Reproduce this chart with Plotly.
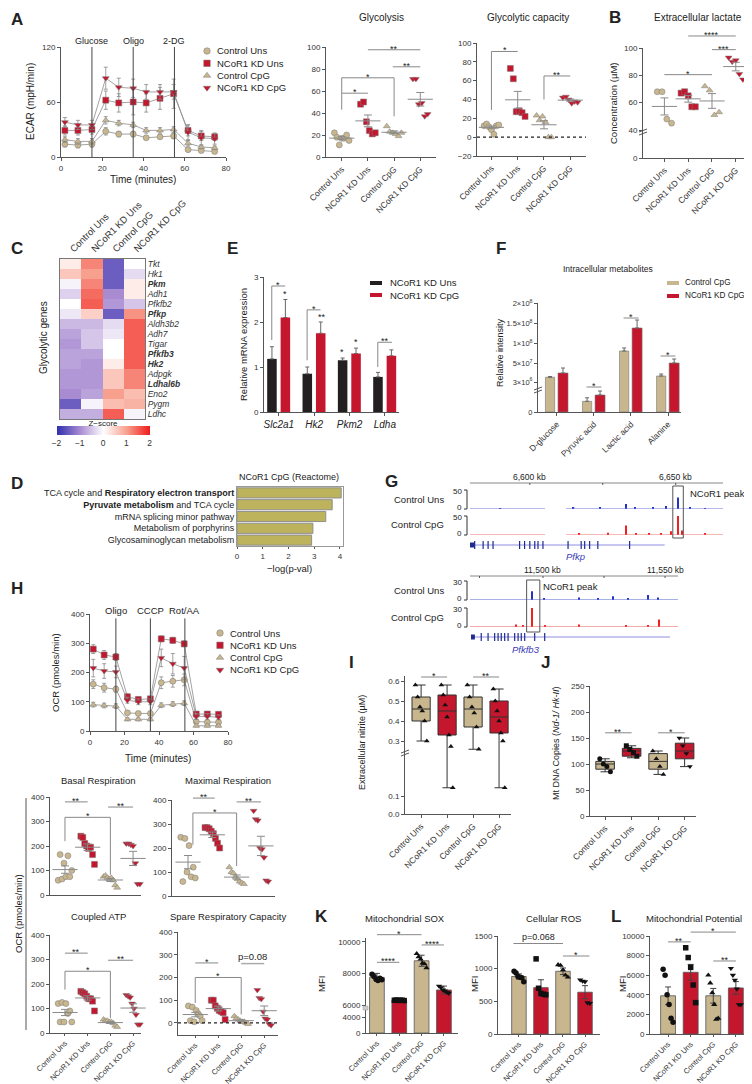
import numpy as np
import plotly.graph_objects as go

W, H = 752, 1084
FONT = 'Liberation Sans, Arial, sans-serif'
TAN = '#C8B68F'
RED = '#C4172E'
AXC = '#555555'
INK = '#222222'

GROUPS = ['Control Uns', 'NCoR1 KD Uns', 'Control CpG', 'NCoR1 KD CpG']
SYMS = ['circle', 'square', 'triangle-up', 'triangle-down']
COLS = [TAN, RED, TAN, RED]

# ---------------- data ----------------
# A: ECAR time course
ecar_time = [1.9, 8.2, 15, 21.7, 28, 35, 41.3, 48, 54.6, 61.6, 68, 74.5]
ecar_ctrl_uns = [14, 13, 14, 28, 25, 25, 21, 22, 23, 8, 7, 6]
ecar_kd_uns = [29, 29, 30, 62, 59, 60, 59, 64, 69, 29, 23, 22]
ecar_ctrl_cpg = [19, 17, 17, 40, 37, 35, 29, 29, 30, 15, 11, 10]
ecar_kd_cpg = [38, 35, 35, 86, 76, 75, 71, 71, 71, 27, 21, 20]
ecar_err_ctrl_uns = [3, 3, 3, 4, 3, 3, 2, 2, 3, 2, 2, 2]
ecar_err_kd_uns = [5, 5, 5, 10, 10, 14, 10, 12, 16, 6, 5, 4]
ecar_err_ctrl_cpg = [3, 3, 3, 4, 3, 3, 3, 3, 3, 3, 2, 2]
ecar_err_kd_cpg = [5, 5, 5, 12, 10, 10, 8, 8, 8, 8, 8, 6]
ecar_inject_t = [15, 35, 55]
ecar_inject_lab = ['Glucose', 'Oligo', '2-DG']

glycolysis = [[22, 18, 11, 17, 17, 20, 15], [48, 50, 32, 24, 21, 22],
              [28, 23, 22, 21, 19, 22], [71, 71, 48, 49, 37, 39]]
glyco_capacity = [[12, 14, 11, 8, 3, 12, 13], [73, 62, 27, 28, 26, 22],
                  [23, 18, 22, 16, 0, 0], [42, 43, 40, 36, 38, 37]]
lactate = [[68, 68, 48, 45], [67, 68, 65, 57, 57], [72, 69, 51, 53], [93, 90, 91, 81, 77]]

# C: heatmap
genes = ['Tkt', 'Hk1', 'Pkm', 'Adh1', 'Pfkfb2', 'Pfkp', 'Aldh3b2', 'Adh7', 'Tigar',
         'Pfkfb3', 'Hk2', 'Adpgk', 'Ldhal6b', 'Eno2', 'Pygm', 'Ldhc']
bold_genes = ['Pkm', 'Pfkp', 'Pfkfb3', 'Hk2', 'Ldhal6b']
zscores = [[0.2, 1.2, -1.5, 0.0], [0.6, 1.0, -1.5, -0.3], [-0.1, 1.2, -1.5, 0.2],
           [-0.4, 1.4, -1.0, 0.2], [0.0, 1.5, -0.9, -0.5], [-0.2, 0.5, -1.5, 1.1],
           [-0.6, -0.6, -0.3, 1.5], [-0.8, -0.5, -0.2, 1.5], [-0.9, -0.5, 0.0, 1.5],
           [-0.8, -0.8, 0.0, 1.5], [-0.8, -0.9, 0.2, 1.5], [-0.9, -0.9, 0.6, 1.2],
           [-0.9, -0.9, 0.6, 1.2], [-1.0, -0.8, 1.0, 0.7], [-1.5, -0.1, 0.7, 0.8],
           [-0.7, -0.7, 1.5, -0.1]]

# E: qPCR
qpcr_genes = ['Slc2a1', 'Hk2', 'Pkm2', 'Ldha']
qpcr_kd_uns = [1.18, 0.85, 1.15, 0.78]
qpcr_kd_uns_err = [0.27, 0.15, 0.05, 0.1]
qpcr_kd_cpg = [2.1, 1.75, 1.3, 1.25]
qpcr_kd_cpg_err = [0.4, 0.25, 0.12, 0.13]

# F: metabolites
metabolites = ['D-glucose', 'Pyruvic acid', 'Lactic acid', 'Alanine']
metab_ctrl_cpg = [1.5e7, 1.07e6, 8.05e7, 1.8e7]
metab_ctrl_cpg_err = [1.5e6, 0.35e6, 7.5e6, 5e6]
metab_kd_cpg = [2.55e7, 1.7e6, 1.38e8, 5.05e7]
metab_kd_cpg_err = [1.25e7, 0.4e6, 2e7, 1e7]

# D: Reactome
reactome_terms = ['TCA cycle and <b>Respiratory electron transport</b>',
                  '<b>Pyruvate metabolism</b> and TCA cycle',
                  'mRNA splicing minor pathway', 'Metabolism of porphyrins',
                  'Glycosaminoglycan metabolism']
reactome_logp = [4.05, 3.7, 3.45, 2.95, 2.9]

# G: ChIP tracks (kb, signal)
pfkp_uns_pos = [6650.7, 6632.9, 6646.6, 6624.0, 6642.2, 6615.0, 6636.0, 6655.0, 6660.0, 6590.0]
pfkp_uns_ht = [30, 13, 8, 4, 4, 3, 3, 3, 2, 2]
pfkp_cpg_pos = [6650.7, 6632.9, 6652.1, 6648.3, 6626.8, 6660.0, 6636.4, 6641.0, 6617.0, 6645.0]
pfkp_cpg_ht = [60, 25, 12, 10, 6, 5, 4, 4, 3, 4]
pfkp_cov = [[6579.5, 6605.2], [6612.4, 6666.2]]
pfkp_exons = [6581.1, 6584.0, 6585.7, 6587.4, 6596.5, 6598.2, 6600.0, 6601.7, 6602.8,
              6604.5, 6613.1, 6617.6, 6618.8, 6620.5, 6623.3, 6634.2]
pfkp_span = [6579.5, 6646.2]
pfkfb3_uns_pos = [11495.5, 11543.0, 11528.7, 11514.8, 11547.1, 11522.5, 11500.5, 11535.0]
pfkfb3_uns_ht = [14, 8, 6, 4, 4, 3, 3, 3]
pfkfb3_cpg_pos = [11495.5, 11547.5, 11489.0, 11514.8, 11534.0, 11543.0, 11500.7, 11492.0]
pfkfb3_cpg_ht = [34, 12, 4, 4, 3, 3, 3, 2]
pfkfb3_cov = [[11470.1, 11555.3]]
pfkfb3_exons = [11474.7, 11477.5, 11480.2, 11481.6, 11482.9, 11484.3, 11485.7, 11488.4,
                11489.8, 11491.1, 11492.5, 11496.6, 11500.7]
pfkfb3_span = [11470.5, 11552.0]

# H: OCR
ocr_ctrl_uns = [160, 148, 143, 62, 60, 60, 165, 170, 175, 32, 30, 30]
ocr_kd_uns = [280, 260, 253, 117, 108, 110, 315, 310, 298, 58, 58, 57]
ocr_ctrl_cpg = [90, 87, 85, 40, 40, 40, 88, 92, 95, 18, 18, 18]
ocr_kd_cpg = [215, 205, 202, 105, 100, 100, 250, 230, 215, 50, 50, 47]
ocr_err_ctrl_uns = [15, 15, 10, 5, 5, 5, 20, 20, 20, 5, 5, 5]
ocr_err_kd_uns = [15, 15, 12, 10, 8, 8, 10, 10, 10, 8, 8, 8]
ocr_err_ctrl_cpg = [8, 8, 8, 5, 5, 5, 8, 8, 8, 4, 4, 4]
ocr_err_kd_cpg = [30, 25, 20, 10, 10, 10, 30, 35, 40, 10, 10, 8]
ocr_inject_lab = ['Oligo', 'CCCP', 'Rot/AA']

basal = [[60, 165, 65, 130, 75, 160, 75, 100], [240, 235, 210, 200, 190, 195, 165, 125],
         [75, 80, 70, 65, 70, 60, 40, 30], [210, 210, 205, 200, 130, 45, 45]]
maximal = [[245, 60, 240, 100, 210, 80, 120, 75], [285, 285, 280, 270, 260, 240, 220, 200],
           [120, 100, 95, 80, 70, 60, 55, 50], [355, 320, 315, 200, 195, 160, 65, 60]]
coupled = [[120, 45, 125, 45, 120, 80, 90, 45], [170, 165, 160, 150, 140, 140, 130, 90],
           [55, 50, 50, 45, 45, 40, 30, 25], [155, 150, 145, 120, 100, 75, 35, 35]]
spare = [[75, 10, 70, 5, 55, 40, 30, 10], [100, 100, 75, 65, 55, 50, 45, 15],
         [30, 20, 15, 10, 5, 5, 0, -5], [145, 110, 105, 50, 20, 15, -5, -10]]

# I: nitrite box plots
nitrite_q1 = [0.40, 0.33, 0.37, 0.34]
nitrite_med = [0.46, 0.45, 0.46, 0.42]
nitrite_q3 = [0.52, 0.53, 0.52, 0.50]
nitrite_lo = [0.30, 0.13, 0.27, 0.13]
nitrite_hi = [0.58, 0.58, 0.58, 0.56]
nitrite_pts = [[0.58, 0.52, 0.47, 0.45, 0.40, 0.30], [0.58, 0.53, 0.48, 0.42, 0.33, 0.28, 0.13],
               [0.58, 0.52, 0.47, 0.44, 0.37, 0.27], [0.56, 0.50, 0.45, 0.40, 0.34, 0.30, 0.13]]
# J: mtDNA box plots
mtdna_q1 = [90, 115, 90, 110]
mtdna_med = [100, 125, 105, 125]
mtdna_q3 = [105, 130, 120, 140]
mtdna_lo = [85, 112, 80, 95]
mtdna_hi = [110, 135, 125, 150]
mtdna_pts = [[110, 100, 95, 85], [135, 128, 122, 115], [125, 110, 95, 80], [150, 135, 120, 95]]

# K, L
sox_mean = [7750, 6300, 8800, 6950]
sox_err = [250, 60, 350, 250]
sox_pts = [[7950, 7800, 7650, 7550, 7700, 7600], [6300, 6310, 6290, 6300, 6300, 6280],
           [9250, 9050, 8900, 8650, 8600, 8350], [7200, 7100, 6950, 6900, 6800, 6750]]
ros_mean = [880, 710, 960, 640]
ros_err = [40, 120, 50, 100]
ros_pts = [[960, 935, 880, 870, 860, 800], [1150, 700, 620, 610, 600],
           [1060, 1050, 980, 900, 870], [830, 810, 800, 480, 470]]
mmp_mean = [3900, 6300, 3900, 4700]
mmp_err = [900, 800, 750, 650]
mmp_pts = [[6600, 6000, 4000, 3000, 1600, 1200], [8800, 7800, 6800, 5000, 3200],
           [6000, 5200, 4200, 3000, 1500, 1600], [6700, 6000, 5500, 4600, 3000, 3000]]

# ---------------- helpers ----------------
fig = go.Figure()
AX = {}
count = [0]


def style(**kw):
    d = dict(showgrid=False, zeroline=False, showline=True, linecolor=AXC, linewidth=1,
             ticks='outside', ticklen=3, tickwidth=1, tickcolor=AXC, automargin=False,
             tickfont=dict(size=8, color='#333'))
    d.update(kw)
    return d


def new_axes(name, box, xr, yr, xkw=None, ykw=None):
    count[0] += 1
    s = '' if count[0] == 1 else str(count[0])
    x0, x1, y0, y1 = box
    xa = style(domain=[x0 / W, x1 / W], range=xr, anchor='y' + s)
    ya = style(domain=[1 - y1 / H, 1 - y0 / H], range=yr, anchor='x' + s)
    xa.update(xkw or {})
    ya.update(ykw or {})
    fig.update_layout({'xaxis' + s: xa, 'yaxis' + s: ya})
    AX[name] = dict(x='x' + s, y='y' + s, box=box, xr=xr, yr=yr)
    return AX[name]


def px(ax, v):
    x0, x1 = ax['box'][:2]
    a, b = ax['xr']
    return x0 + (v - a) / (b - a) * (x1 - x0)


def py(ax, v):
    y0, y1 = ax['box'][2:]
    a, b = ax['yr']
    return y1 - (v - a) / (b - a) * (y1 - y0)


def line(x0, y0, x1, y1, color='#666', width=1, dash=None):
    fig.add_shape(type='line', xref='paper', yref='paper', x0=x0 / W, x1=x1 / W,
                  y0=1 - y0 / H, y1=1 - y1 / H, line=dict(color=color, width=width, dash=dash))


def rect(x0, y0, x1, y1, fill=None, color='#555', width=1):
    fig.add_shape(type='rect', xref='paper', yref='paper', x0=x0 / W, x1=x1 / W,
                  y0=1 - y0 / H, y1=1 - y1 / H, fillcolor=fill,
                  line=dict(color=color, width=width))


def text(x, y, s, size=9, xa='center', ya='middle', angle=0, color=INK):
    fig.add_annotation(xref='paper', yref='paper', x=x / W, y=1 - y / H, text=s,
                       showarrow=False, xanchor=xa, yanchor=ya, textangle=angle,
                       font=dict(size=size, color=color), borderpad=0)


def letter(x, y, s):
    text(x, y, '<b>' + s + '</b>', size=17, xa='left')


def brk(v, kv, kp):
    v = np.asarray(v, float)
    out = np.interp(v, kv, kp)
    slope = (kp[-1] - kp[-2]) / (kv[-1] - kv[-2])
    return np.where(v > kv[-1], kp[-1] + (v - kv[-1]) * slope, out)


def bracket(ax, c0, c1, yv, label, d0=None, d1=None, color='#888', size=9, width=1):
    x0, x1, y = px(ax, c0), px(ax, c1), py(ax, yv)
    line(x0, y, x1, y, color, width)
    if d0 is not None:
        line(x0, y, x0, py(ax, d0), color, width)
    if d1 is not None:
        line(x1, y, x1, py(ax, d1), color, width)
    if label.startswith('p'):
        text((x0 + x1) / 2, y - 1, label, size=size, ya='bottom')
    else:
        text((x0 + x1) / 2, y - 1, label, size=size)


def dotplot(ax, groups, size=6, w=0.28, mean_w=18, tf=None, edge='#7a7a7a'):
    tf = tf or (lambda v: np.asarray(v, float))
    for i, vals in enumerate(groups):
        n = len(vals)
        offs = np.linspace(-w, w, n)
        fig.add_trace(go.Scatter(x=i + offs, y=tf(vals), mode='markers', cliponaxis=False,
                                 marker=dict(symbol=SYMS[i], size=size, color=COLS[i],
                                             line=dict(color=edge, width=0.5)),
                                 xaxis=ax['x'], yaxis=ax['y']))
        m = np.mean(vals)
        s = np.std(vals, ddof=1) / np.sqrt(n)
        fig.add_trace(go.Scatter(x=[i], y=tf([m]), mode='markers', cliponaxis=False,
                                 marker=dict(symbol='line-ew', size=mean_w,
                                             line=dict(color='#8a8a8a', width=1)),
                                 error_y=dict(type='data', symmetric=False,
                                              array=tf([m + s]) - tf([m]),
                                              arrayminus=tf([m]) - tf([m - s]),
                                              color='#8a8a8a', thickness=1, width=4),
                                 xaxis=ax['x'], yaxis=ax['y']))


cat_x = dict(tickvals=[0, 1, 2, 3], ticktext=GROUPS, tickangle=-45,
             tickfont=dict(size=8.5, color='#333'))
cat_x_small = dict(tickvals=[0, 1, 2, 3], ticktext=GROUPS, tickangle=-45, ticklen=2,
                   tickfont=dict(size=7.5, color='#333'))

# ---------------- A: ECAR ----------------
letter(2, 12, 'A')
a = new_axes('A', (53, 218, 39, 149), [0, 80], [0, 120],
             dict(tickvals=[0, 20, 40, 60, 80]), dict(tickvals=[0, 60, 120]))
for t, lab in zip(ecar_inject_t, ecar_inject_lab):
    line(px(a, t), py(a, 0), px(a, t), py(a, 120), '#444')
    text(px(a, t), 33, lab, size=9)
ecar = [ecar_ctrl_uns, ecar_kd_uns, ecar_ctrl_cpg, ecar_kd_cpg]
ecar_err = [ecar_err_ctrl_uns, ecar_err_kd_uns, ecar_err_ctrl_cpg, ecar_err_kd_cpg]
for vals, err, sym, col in zip(ecar, ecar_err, SYMS, COLS):
    fig.add_trace(go.Scatter(x=ecar_time, y=vals, mode='lines+markers', cliponaxis=False,
                             line=dict(color='#8c8c8c', width=0.8),
                             error_y=dict(type='data', array=err, color='#888', thickness=0.8, width=2),
                             marker=dict(symbol=sym, size=6, color=col, line=dict(color='#777', width=0.5)),
                             xaxis=a['x'], yaxis=a['y']))
text(135, 171, 'Time (minutes)', size=10)
text(22, 94, 'ECAR (mpH/min)', size=10, angle=-90)

# ---------------- Glycolysis ----------------
g = new_axes('glyc', (318, 428, 39, 149), [-0.6, 3.6], [0, 100], cat_x,
             dict(tickvals=[0, 20, 40, 60, 80, 100]))
text(373, 10, 'Glycolysis', size=10)
dotplot(g, glycolysis)
bracket(g, 0, 1, 58, '*', d0=43)
bracket(g, 0, 2, 72, '*', d0=58, d1=37)
bracket(g, 1.95, 3, 82, '**')
bracket(g, 1, 3, 97.5, '**')

gc = new_axes('gcap', (469, 578, 35, 148), [-0.55, 3.6], [-20, 100], cat_x,
              dict(tickvals=[-20, 0, 20, 40, 60, 80, 100]))
text(520, 10, 'Glycolytic capacity', size=10)
line(469, py(gc, 0), 578, py(gc, 0), '#222', 1.3, 'dot')
dotplot(gc, glyco_capacity)
bracket(gc, 0, 1, 91, '*', d0=29)
bracket(gc, 2, 3, 65, '**', d0=40)

# ---------------- B: lactate ----------------
letter(600, 10, 'B')
lac_kv, lac_kp = [0, 40, 100], [0, 28, 110]
lac_tf = lambda v: brk(v, lac_kv, lac_kp)
b = new_axes('B', (635, 748, 40, 150), [-0.9, 3.85], [0, 110], cat_x,
             dict(tickvals=list(lac_tf([0, 40, 60, 80, 100])), ticktext=['0', '40', '60', '80', '100']))
text(690, 10, 'Extracellular lactate', size=10)
text(606, 95, 'Concentration (µM)', size=9.5, angle=-90)
dotplot(b, lactate, w=0.3, tf=lac_tf)
for dy in (-2, 1):
    line(631, 126 + dy, 639, 123 + dy, '#555')
bracket(b, 0, 2, float(lac_tf(80.5)), '*')
bracket(b, 1, 3, float(lac_tf(108.8)), '****')
bracket(b, 2, 3, float(lac_tf(98.8)), '***')

# ---------------- C: heatmap ----------------
letter(2, 240, 'C')
c = new_axes('C', (52, 137, 251, 411), [-0.5, 3.5], [15.5, -0.5],
             dict(side='top', tickvals=[0, 1, 2, 3], ticktext=GROUPS, tickangle=-45, ticks='',
                  mirror=True, linecolor='#777', tickfont=dict(size=9.5, color='#333')),
             dict(side='right', tickvals=list(range(16)), ticks='', mirror=True, linecolor='#777',
                  ticktext=[('<b><i>%s</i></b>' if gname in bold_genes else '<i>%s</i>') % gname
                            for gname in genes],
                  tickfont=dict(size=8.5, color='#333')))
fig.add_trace(go.Heatmap(z=zscores, x=[0, 1, 2, 3], y=list(range(16)), zmin=-2, zmax=2,
                         colorscale=[[0, '#2f2fae'], [0.25, '#a98bd2'], [0.5, '#ffffff'],
                                     [0.75, '#f8a08e'], [1, '#ef1b1b']],
                         xaxis=c['x'], yaxis=c['y'],
                         colorbar=dict(orientation='h', x=95 / W, xanchor='center', y=1 - 409 / H,
                                       yanchor='top', len=93, lenmode='pixels', thickness=9,
                                       xpad=0, ypad=0, outlinewidth=0, ticks='',
                                       tickvals=[-2, -1, 0, 1, 2], ticktext=['−2', '−1', '0', '1', '2'],
                                       tickfont=dict(size=8.5, color='#333'),
                                       title=dict(text='Z−score', side='top', font=dict(size=8)))))
text(35, 330, 'Glycolytic genes', size=10, angle=-90)

# ---------------- E: qPCR ----------------
letter(218, 240, 'E')
e = new_axes('E', (256, 391, 269, 404), [-0.42, 3.4], [0, 3],
             dict(tickvals=[0, 1, 2, 3], ticktext=['<i>%s</i>' % q for q in qpcr_genes],
                  tickfont=dict(size=10, color='#222')),
             dict(tickvals=[0, 1, 2, 3]))
for vals, err, col, off in ((qpcr_kd_uns, qpcr_kd_uns_err, '#231f20', -0.33),
                            (qpcr_kd_cpg, qpcr_kd_cpg_err, RED, 0.05)):
    fig.add_trace(go.Bar(x=[0, 1, 2, 3], y=vals, offset=off, width=0.27,
                         marker=dict(color=col, line=dict(width=0)),
                         error_y=dict(type='data', symmetric=False, array=err, arrayminus=[0] * 4,
                                      color='#666', thickness=1, width=2),
                         xaxis=e['x'], yaxis=e['y']))
text(236, 337, 'Relative mRNA expression', size=9.5, angle=-90)
rect(362, 273, 374, 277, '#231f20', '#231f20', 0)
rect(362, 285, 374, 289, RED, RED, 0)
text(381, 275, 'NCoR1 KD Uns', size=9.5, xa='left')
text(381, 287, 'NCoR1 KD CpG', size=9.5, xa='left')
bracket(e, -0.2, 0.18, 2.8, '*', d0=1.6)
text(px(e, 0.18), py(e, 2.62), '*', size=9)
bracket(e, 0.8, 1.18, 2.27, '*', d0=1.15)
text(px(e, 1.22), py(e, 2.1), '**', size=9)
text(px(e, 1.8), py(e, 1.34), '*', size=9)
text(px(e, 2.18), py(e, 1.56), '*', size=9)
bracket(e, 2.8, 3.2, 1.55, '**', d0=1.0)

# ---------------- F: metabolites ----------------
letter(487, 240, 'F')
met_kv, met_kp = [0, 3e6, 2e8], [0, 30, 108.8]
met_tf = lambda v: brk(v, met_kv, met_kp)
f = new_axes('F', (530, 673, 295, 404), [-0.51, 3.35], [0, 109],
             dict(tickvals=[0, 1, 2, 3], ticktext=metabolites, tickangle=-45,
                  tickfont=dict(size=8.5, color='#333')),
             dict(tickvals=list(met_tf([0, 3e6, 5e7, 1e8, 1.5e8, 2e8])),
                  ticktext=['0', '3×10<sup>6</sup>', '5×10<sup>7</sup>', '1×10<sup>8</sup>',
                            '1.5×10<sup>8</sup>', '2×10<sup>8</sup>'],
                  tickfont=dict(size=7.5, color='#333')))
for vals, err, col, off, wd in ((metab_ctrl_cpg, metab_ctrl_cpg_err, TAN, -0.31, 0.25),
                                (metab_kd_cpg, metab_kd_cpg_err, RED, 0.03, 0.27)):
    v = np.array(vals)
    fig.add_trace(go.Bar(x=[0, 1, 2, 3], y=met_tf(v), offset=off, width=wd,
                         marker=dict(color=col, line=dict(color='#777', width=0.6)),
                         error_y=dict(type='data', symmetric=False,
                                      array=met_tf(v + np.array(err)) - met_tf(v),
                                      arrayminus=[0] * 4, color='#666', thickness=1, width=2),
                         xaxis=f['x'], yaxis=f['y']))
text(600, 261, 'Intracellular metabolites', size=8.5)
text(492, 345, 'Relative intensity', size=9, angle=-90)
for dy in (-2, 1):
    line(526, 384 + dy, 534, 381 + dy, '#555')
rect(659, 273, 671, 277, TAN, TAN, 0)
rect(659, 286, 671, 290, RED, RED, 0)
text(676, 275, 'Control CpG', size=8.2, xa='left')
text(676, 288, 'NCoR1 KD CpG', size=8.2, xa='left')
bracket(f, 0.8, 1.2, 25, '*')
bracket(f, 1.8, 2.2, 94, '*')
bracket(f, 2.8, 3.2, 56, '*')

# ---------------- D: Reactome ----------------
letter(2, 475, 'D')
d = new_axes('D', (229, 335, 479, 538), [0, 4.12], [4.5, -0.5],
             dict(tickvals=[0, 1, 2, 3, 4], mirror=True, linecolor='#999', ticklen=2),
             dict(tickvals=[0, 1, 2, 3, 4], ticktext=reactome_terms, mirror=True, ticks='',
                  linecolor='#999', tickfont=dict(size=9, color='#222')))
fig.add_trace(go.Bar(x=reactome_logp, y=[0, 1, 2, 3, 4], orientation='h', width=0.86,
                     marker=dict(color='#BDB35D', line=dict(color='#8e8e8e', width=1)),
                     xaxis=d['x'], yaxis=d['y']))
text(281, 469, 'NCoR1 CpG (Reactome)', size=9)
text(281, 560, '−log(p-val)', size=9.5)

# ---------------- G: tracks ----------------
letter(376, 473, 'G')


def track_group(yt, xr, ymax, uns, cpg, cov, exons, span, ticks, labels, ybase):
    ru, rc = ybase
    hid = dict(visible=False)
    axu = new_axes('gu%d' % yt, (462, xr[2], ru, ru + 19), xr[:2], [0, ymax], hid, hid)
    axc = new_axes('gc%d' % yt, (462, xr[2], rc, rc + 19), xr[:2], [0, ymax], hid, hid)
    axg = new_axes('gg%d' % yt, (462, xr[2], rc + 25, rc + 33), xr[:2], [-1, 1], hid, hid)
    for ax, (pos, ht), col, lite in ((axu, uns, '#2433c4', '#6a74d8'), (axc, cpg, '#ee2020', '#f27070')):
        xs, ys = [], []
        for s0, s1 in cov:
            xs += [s0, s1, None]
            ys += [0.5, 0.5, None]
        fig.add_trace(go.Scatter(x=xs, y=ys, mode='lines', line=dict(color=lite, width=0.7),
                                 xaxis=ax['x'], yaxis=ax['y']))
        fig.add_trace(go.Bar(x=pos, y=ht, width=0.45, marker=dict(color=col, line=dict(width=0)),
                             xaxis=ax['x'], yaxis=ax['y']))
    for r in (ru, rc):
        line(459, r, 459, r + 19, '#333')
        line(456, r, 459, r, '#333')
        line(456, r + 19, 459, r + 19, '#333')
        text(455, r + 1, str(ymax), size=8, xa='right')
        text(455, r + 17, '0', size=8, xa='right')
    fig.add_trace(go.Scatter(x=span, y=[0, 0], mode='lines', line=dict(color='#8d8de0', width=1),
                             xaxis=axg['x'], yaxis=axg['y']))
    fig.add_trace(go.Scatter(x=[span[0], span[0] + 1.6], y=[0, 0], mode='lines',
                             line=dict(color='#1e2b8f', width=5), xaxis=axg['x'], yaxis=axg['y']))
    fig.add_trace(go.Scatter(x=exons, y=[0] * len(exons), mode='markers',
                             marker=dict(symbol='line-ns', size=8, line=dict(color='#1e2b8f', width=1.2)),
                             xaxis=axg['x'], yaxis=axg['y']))
    # ruler
    line(462, yt, xr[2], yt, '#888')
    for tk in ticks:
        line(px(axu, tk), yt, px(axu, tk), yt + 2, '#555')
    for tk, lab in labels:
        text(px(axu, tk), yt - 6, lab, size=8.5)
    text(437, ru + 9, 'Control Uns', size=9.5, xa='right')
    text(437, rc + 9, 'Control CpG', size=9.5, xa='right')
    return axu, axc


gu1, gc1 = track_group(475, [6579.5, 6666.2, 715], 50, (pfkp_uns_pos, pfkp_uns_ht),
                       (pfkp_cpg_pos, pfkp_cpg_ht), pfkp_cov, pfkp_exons, pfkp_span,
                       [6600, 6625, 6650], [(6600, '6,600 kb'), (6650, '6,650 kb')], (482, 508))
text(567, 548, '<i>Pfkp</i>', size=9.5, color='#3a3ab8')
rect(px(gu1, 6649.0), 478, px(gu1, 6652.6), 530, None, '#555', 1)
text(681, 485, 'NCoR1 peak', size=9.5, xa='left')
gu2, gc2 = track_group(568, [11470.1, 11555.3, 670], 30, (pfkfb3_uns_pos, pfkfb3_uns_ht),
                       (pfkfb3_cpg_pos, pfkfb3_cpg_ht), pfkfb3_cov, pfkfb3_exons, pfkfb3_span,
                       [11474, 11500, 11525, 11550], [(11500, '11,500 kb'), (11550, '11,550 kb')],
                       (573, 600))
text(518, 641, '<i>Pfkfb3</i>', size=9.5, color='#3a3ab8')
rect(px(gu2, 11493.3), 572, px(gu2, 11498.7), 624, None, '#555', 1)
text(534, 578, 'NCoR1 peak', size=9.5, xa='left')

# ---------------- H: OCR ----------------
letter(2, 580, 'H')
h = new_axes('H', (82, 220, 606, 723), [0, 80], [0, 400],
             dict(tickvals=[0, 20, 40, 60, 80]), dict(tickvals=[0, 100, 200, 300, 400]))
for t, lab in zip(ecar_inject_t, ocr_inject_lab):
    line(px(h, t), py(h, 0), px(h, t), py(h, 385), '#444')
    text(px(h, t), 602, lab, size=9.5)
ocr = [ocr_ctrl_uns, ocr_kd_uns, ocr_ctrl_cpg, ocr_kd_cpg]
ocr_err = [ocr_err_ctrl_uns, ocr_err_kd_uns, ocr_err_ctrl_cpg, ocr_err_kd_cpg]
for vals, err, sym, col in zip(ocr, ocr_err, SYMS, COLS):
    fig.add_trace(go.Scatter(x=ecar_time, y=vals, mode='lines+markers', cliponaxis=False,
                             line=dict(color='#8c8c8c', width=0.8),
                             error_y=dict(type='data', array=err, color='#888', thickness=0.8, width=2),
                             marker=dict(symbol=sym, size=6, color=col, line=dict(color='#777', width=0.5)),
                             xaxis=h['x'], yaxis=h['y']))
text(150, 750, 'Time (minutes)', size=10)
text(47, 665, 'OCR (pmoles/min)', size=9.5, angle=-90)

hb = new_axes('basal', (42, 133, 789, 887), [-0.66, 3.35], [0, 400],
              dict(showticklabels=False, ticks=''), dict(tickvals=[0, 100, 200, 300, 400]))
text(90, 772, 'Basal Respiration', size=9.5)
dotplot(hb, basal, size=6, w=0.3)
bracket(hb, 0, 1, 380, '**')
bracket(hb, 0, 2, 317, '*', d0=220, d1=83)
bracket(hb, 1.9, 3, 359, '**')

hm = new_axes('maximal', (164, 267, 792, 888), [-0.66, 3.58], [0, 400],
              dict(showticklabels=False, ticks=''), dict(tickvals=[0, 100, 200, 300, 400]))
text(220, 772, 'Maximal Respiration', size=9.5)
dotplot(hm, maximal, size=6, w=0.3)
bracket(hm, 0.2, 1.1, 408, '**')
bracket(hm, 0.2, 2, 346, '*', d0=214, d1=125)
bracket(hm, 2, 3, 392, '**')

hc = new_axes('coupled', (42, 133, 927, 1025), [-0.66, 3.35], [0, 400], cat_x_small,
              dict(tickvals=[0, 100, 200, 300, 400]))
text(90, 908, 'Coupled ATP', size=9.5)
dotplot(hc, coupled, size=6, w=0.3)
bracket(hc, 0, 1, 326, '**')
bracket(hc, 0, 2, 252, '*', d0=177, d1=60)
bracket(hc, 1.9, 3, 297, '**')

hs = new_axes('spare', (170, 270, 924, 1027), [-0.75, 3.6], [-53, 400], cat_x_small,
              dict(tickvals=[0, 100, 200, 300, 400]))
text(220, 908, 'Spare Respiratory Capacity', size=9.5)
line(170, py(hs, 0), 270, py(hs, 0), '#222', 1.3, 'dot')
dotplot(hs, spare, size=6, w=0.3)
bracket(hs, 0, 1, 264, '*')
bracket(hs, 0, 2, 200, '*', d0=88, d1=37)
bracket(hs, 2, 3, 261, 'p=0.08', width=1.5, color='#aaa', size=9.5)

line(18, 790, 18, 1022, '#555')
text(10, 906, 'OCR (pmoles/min)', size=9.5, angle=-90)

# ---------------- I: nitrite ----------------
letter(340, 654, 'I')
nit_kv, nit_kp = [0, 0.1, 0.3, 0.6], [0, 18, 73, 133]
nit_tf = lambda v: brk(v, nit_kv, nit_kp)
ia = new_axes('I', (397, 503, 668, 806), [-0.62, 3.46], [0, 138], cat_x,
              dict(tickvals=list(nit_tf([0, 0.1, 0.3, 0.4, 0.5, 0.6])),
                   ticktext=['0.0', '0.1', '0.3', '0.4', '0.5', '0.6']))
for i in range(4):
    fig.add_trace(go.Box(x=[i], q1=nit_tf([nitrite_q1[i]]), median=nit_tf([nitrite_med[i]]),
                         q3=nit_tf([nitrite_q3[i]]), lowerfence=nit_tf([nitrite_lo[i]]),
                         upperfence=nit_tf([nitrite_hi[i]]), width=0.7, fillcolor=COLS[i],
                         line=dict(color='#333', width=1), boxpoints=False,
                         xaxis=ia['x'], yaxis=ia['y']))
    fig.add_trace(go.Scatter(x=i + np.linspace(-0.22, 0.22, len(nitrite_pts[i])), y=nit_tf(nitrite_pts[i]),
                             mode='markers', marker=dict(symbol='triangle-up', size=5, color='#111'),
                             xaxis=ia['x'], yaxis=ia['y']))
text(354, 735, 'Extracellular nitrite (µM)', size=9, angle=-90)
for dy in (-2, 1):
    line(393, 747 + dy, 401, 744 + dy, '#555')
bracket(ia, 0, 1, float(brk([0.62], nit_kv, nit_kp)[0]), '*')
bracket(ia, 2, 3, float(brk([0.62], nit_kv, nit_kp)[0]), '**')

# ---------------- J: mtDNA ----------------
letter(532, 654, 'J')
ja = new_axes('J', (582, 688, 678, 808), [-0.57, 3.43], [0, 250], cat_x,
              dict(tickvals=[0, 50, 100, 150, 200, 250]))
for i in range(4):
    fig.add_trace(go.Box(x=[i], q1=[mtdna_q1[i]], median=[mtdna_med[i]], q3=[mtdna_q3[i]],
                         lowerfence=[mtdna_lo[i]], upperfence=[mtdna_hi[i]], width=0.7,
                         fillcolor=COLS[i], line=dict(color='#333', width=1), boxpoints=False,
                         xaxis=ja['x'], yaxis=ja['y']))
    fig.add_trace(go.Scatter(x=i + np.linspace(-0.2, 0.2, len(mtdna_pts[i])), y=mtdna_pts[i],
                             mode='markers', marker=dict(symbol=SYMS[i], size=5, color='#111'),
                             xaxis=ja['x'], yaxis=ja['y']))
text(548, 735, 'Mt DNA Copies (<i>Nd-1/ Hk-II</i>)', size=9, angle=-90)
bracket(ja, 0, 1, 160, '**')
bracket(ja, 2, 3, 160, '*')


# ---------------- K, L ----------------
def barplot(ax, means, errs, pts, tf=None):
    tf = tf or (lambda v: np.asarray(v, float))
    m = np.array(means, float)
    e = np.array(errs, float)
    fig.add_trace(go.Bar(x=[0, 1, 2, 3], y=tf(m), width=0.66,
                         marker=dict(color=COLS, line=dict(color='#555', width=0.8)),
                         error_y=dict(type='data', symmetric=False, array=tf(m + e) - tf(m),
                                      arrayminus=tf(m) - tf(m - e), color='#444', thickness=1, width=3),
                         xaxis=ax['x'], yaxis=ax['y']))
    for i, vals in enumerate(pts):
        fig.add_trace(go.Scatter(x=i + np.linspace(-0.22, 0.22, len(vals)), y=tf(vals), mode='markers',
                                 cliponaxis=False,
                                 marker=dict(symbol=SYMS[i], size=5.5, color='#111'),
                                 xaxis=ax['x'], yaxis=ax['y']))


letter(306, 908, 'K')
sox_kv, sox_kp = [0, 4000, 6000, 10000], [0, 16, 28, 91.2]
sox_tf = lambda v: brk(v, sox_kv, sox_kp)
k1 = new_axes('sox', (358, 450, 930, 1025), [-0.49, 3.63], [0, 95], cat_x_small,
              dict(tickvals=list(sox_tf([0, 4000, 6000, 8000, 10000])),
                   ticktext=['0', '4000', '6000', '8000', '10000']))
text(397, 910, 'Mitochondrial SOX', size=9.5)
text(313, 976, 'MFI', size=9.5, angle=-90)
barplot(k1, sox_mean, sox_err, sox_pts, sox_tf)
rect(355, 998, 360, 1002, '#ccc', '#999', 0.5)
bracket(k1, 0, 2, float(sox_tf([10450])[0]), '*')
bracket(k1, 0, 1, float(sox_tf([8700])[0]), '****')
bracket(k1, 2, 3, float(sox_tf([9800])[0]), '****')

k2 = new_axes('ros', (490, 592, 928, 1026), [-0.95, 3.68], [0, 1500], cat_x_small,
              dict(tickvals=[0, 500, 1000, 1500]))
text(545, 910, 'Cellular ROS', size=9.5)
text(466, 976, 'MFI', size=9.5, angle=-90)
barplot(k2, ros_mean, ros_err, ros_pts)
bracket(k2, -0.25, 2, 1385, 'p=0.068', size=9)
bracket(k2, 2, 3.2, 1194, '*')

letter(602, 908, 'L')
l1 = new_axes('mmp', (642, 743, 928, 1026), [-0.8, 3.67], [0, 10000], cat_x_small,
              dict(tickvals=[0, 2000, 4000, 6000, 8000, 10000], tickformat='d'))
text(686, 910, 'Mitochondrial Potential', size=9.5)
text(614, 976, 'MFI', size=9.5, angle=-90)
barplot(l1, mmp_mean, mmp_err, mmp_pts)
bracket(l1, 0, 1, 9400, '**')
bracket(l1, 1, 3, 10400, '*')
bracket(l1, 2, 3, 7450, '**')

# ---------------- legends (A and H) on a pixel overlay ----------------
pix = new_axes('pix', (0, W, 0, H), [0, W], [H, 0], dict(visible=False), dict(visible=False))
for (lx, ly0) in ((199, 43), (212, 625)):
    for i, gname in enumerate(GROUPS):
        yy = ly0 + 12.3 * i
        fig.add_trace(go.Scatter(x=[lx], y=[yy], mode='markers',
                                 marker=dict(symbol=SYMS[i], size=6.5, color=COLS[i],
                                             line=dict(color='#777', width=0.5)),
                                 xaxis=pix['x'], yaxis=pix['y']))
        text(lx + 9, yy, gname, size=9.5, xa='left')

fig.update_layout(width=W, height=H, margin=dict(l=0, r=0, t=0, b=0, autoexpand=False),
                  plot_bgcolor='rgba(0,0,0,0)', paper_bgcolor='white', showlegend=False,
                  barmode='overlay', font=dict(family=FONT, size=9, color=INK))
fig.write_html('out.html')
